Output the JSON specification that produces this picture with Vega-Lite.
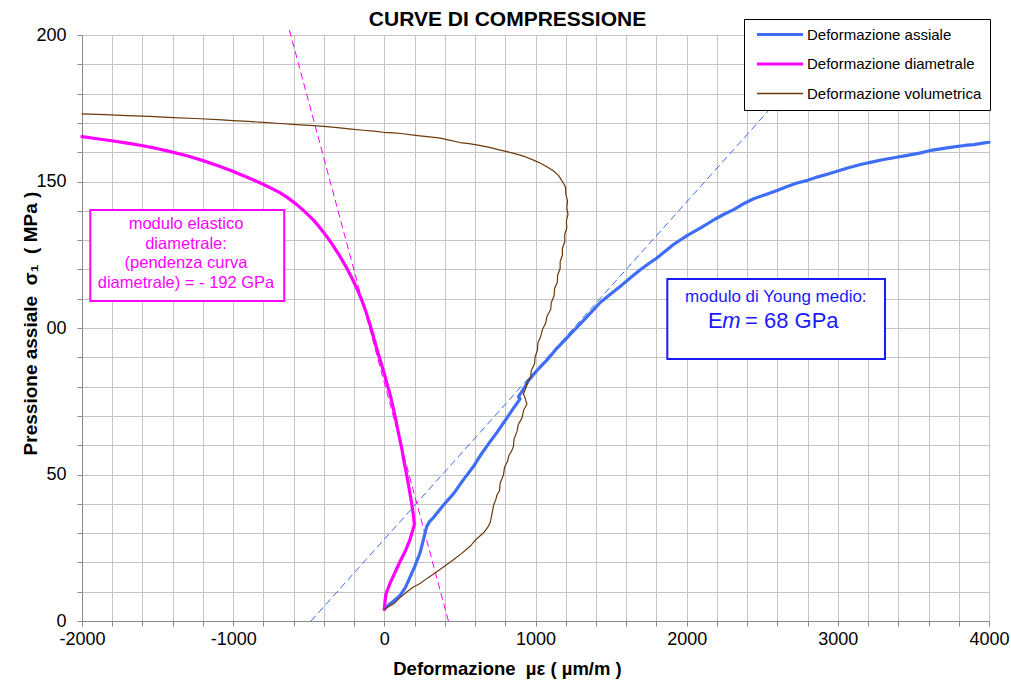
{
  "$schema": "https://vega.github.io/schema/vega-lite/v6.json",
  "width": 907,
  "height": 586,
  "autosize": {"type": "none"},
  "padding": {"left": 82, "top": 35, "right": 22, "bottom": 61},
  "background": "white",
  "config": {
    "font": "Liberation Sans",
    "view": {"stroke": "#b0b0b0"},
    "axis": {"gridColor": "#c4c4c4", "gridWidth": 1, "domainColor": "#8a8a8a", "tickColor": "#8a8a8a", "labelColor": "black", "titleColor": "black", "labelFont": "Liberation Sans", "titleFont": "Liberation Sans"}
  },
  "title": {"text": "CURVE DI COMPRESSIONE", "fontSize": 21, "font": "Liberation Sans", "fontWeight": "bold", "anchor": "middle", "dx": -28, "dy": 16, "offset": 5, "color": "black"},
  "datasets": {
    "curve": [
      {"serie": "Deformazione assiale", "x": 0, "y": 4},
      {"serie": "Deformazione assiale", "x": 20, "y": 5},
      {"serie": "Deformazione assiale", "x": 37, "y": 5.8},
      {"serie": "Deformazione assiale", "x": 70, "y": 7.2},
      {"serie": "Deformazione assiale", "x": 104, "y": 8.7},
      {"serie": "Deformazione assiale", "x": 140, "y": 11.5},
      {"serie": "Deformazione assiale", "x": 170, "y": 15},
      {"serie": "Deformazione assiale", "x": 200, "y": 18.5},
      {"serie": "Deformazione assiale", "x": 236, "y": 23.2},
      {"serie": "Deformazione assiale", "x": 260, "y": 28},
      {"serie": "Deformazione assiale", "x": 280, "y": 32.2},
      {"serie": "Deformazione assiale", "x": 300, "y": 34},
      {"serie": "Deformazione assiale", "x": 325, "y": 35.3},
      {"serie": "Deformazione assiale", "x": 390, "y": 39.5},
      {"serie": "Deformazione assiale", "x": 457, "y": 43.4},
      {"serie": "Deformazione assiale", "x": 520, "y": 48},
      {"serie": "Deformazione assiale", "x": 589, "y": 52.7},
      {"serie": "Deformazione assiale", "x": 650, "y": 57.6},
      {"serie": "Deformazione assiale", "x": 700, "y": 61.2},
      {"serie": "Deformazione assiale", "x": 744, "y": 64.3},
      {"serie": "Deformazione assiale", "x": 800, "y": 68.5},
      {"serie": "Deformazione assiale", "x": 850, "y": 72.3},
      {"serie": "Deformazione assiale", "x": 898, "y": 75.8},
      {"serie": "Deformazione assiale", "x": 887, "y": 76.6},
      {"serie": "Deformazione assiale", "x": 920, "y": 79},
      {"serie": "Deformazione assiale", "x": 954, "y": 82.1},
      {"serie": "Deformazione assiale", "x": 1010, "y": 85.5},
      {"serie": "Deformazione assiale", "x": 1075, "y": 89},
      {"serie": "Deformazione assiale", "x": 1140, "y": 93},
      {"serie": "Deformazione assiale", "x": 1208, "y": 96.6},
      {"serie": "Deformazione assiale", "x": 1270, "y": 100},
      {"serie": "Deformazione assiale", "x": 1329, "y": 103.2},
      {"serie": "Deformazione assiale", "x": 1380, "y": 106},
      {"serie": "Deformazione assiale", "x": 1428, "y": 108.7},
      {"serie": "Deformazione assiale", "x": 1493, "y": 111.4},
      {"serie": "Deformazione assiale", "x": 1560, "y": 114.2},
      {"serie": "Deformazione assiale", "x": 1630, "y": 117.2},
      {"serie": "Deformazione assiale", "x": 1693, "y": 119.9},
      {"serie": "Deformazione assiale", "x": 1750, "y": 122},
      {"serie": "Deformazione assiale", "x": 1803, "y": 123.9},
      {"serie": "Deformazione assiale", "x": 1860, "y": 126.3},
      {"serie": "Deformazione assiale", "x": 1913, "y": 128.5},
      {"serie": "Deformazione assiale", "x": 2002, "y": 131.5},
      {"serie": "Deformazione assiale", "x": 2090, "y": 134.1},
      {"serie": "Deformazione assiale", "x": 2189, "y": 137.2},
      {"serie": "Deformazione assiale", "x": 2250, "y": 138.9},
      {"serie": "Deformazione assiale", "x": 2311, "y": 140.4},
      {"serie": "Deformazione assiale", "x": 2380, "y": 142.5},
      {"serie": "Deformazione assiale", "x": 2443, "y": 144.1},
      {"serie": "Deformazione assiale", "x": 2520, "y": 145.5},
      {"serie": "Deformazione assiale", "x": 2598, "y": 146.9},
      {"serie": "Deformazione assiale", "x": 2660, "y": 148.2},
      {"serie": "Deformazione assiale", "x": 2730, "y": 149.5},
      {"serie": "Deformazione assiale", "x": 2800, "y": 150.4},
      {"serie": "Deformazione assiale", "x": 2863, "y": 151.5},
      {"serie": "Deformazione assiale", "x": 2930, "y": 152.5},
      {"serie": "Deformazione assiale", "x": 2995, "y": 153.5},
      {"serie": "Deformazione assiale", "x": 3070, "y": 154.7},
      {"serie": "Deformazione assiale", "x": 3150, "y": 155.8},
      {"serie": "Deformazione assiale", "x": 3230, "y": 156.7},
      {"serie": "Deformazione assiale", "x": 3304, "y": 157.5},
      {"serie": "Deformazione assiale", "x": 3380, "y": 158.2},
      {"serie": "Deformazione assiale", "x": 3459, "y": 158.9},
      {"serie": "Deformazione assiale", "x": 3540, "y": 159.7},
      {"serie": "Deformazione assiale", "x": 3614, "y": 160.6},
      {"serie": "Deformazione assiale", "x": 3690, "y": 161.2},
      {"serie": "Deformazione assiale", "x": 3768, "y": 161.8},
      {"serie": "Deformazione assiale", "x": 3840, "y": 162.3},
      {"serie": "Deformazione assiale", "x": 3900, "y": 162.6},
      {"serie": "Deformazione assiale", "x": 3960, "y": 163.1},
      {"serie": "Deformazione assiale", "x": 4000, "y": 163.4},

      {"serie": "Deformazione diametrale", "x": 0, "y": 4},
      {"serie": "Deformazione diametrale", "x": 5, "y": 7},
      {"serie": "Deformazione diametrale", "x": 11, "y": 9.3},
      {"serie": "Deformazione diametrale", "x": 37, "y": 12.8},
      {"serie": "Deformazione diametrale", "x": 70, "y": 16.5},
      {"serie": "Deformazione diametrale", "x": 104, "y": 20.3},
      {"serie": "Deformazione diametrale", "x": 140, "y": 24},
      {"serie": "Deformazione diametrale", "x": 170, "y": 27.8},
      {"serie": "Deformazione diametrale", "x": 199, "y": 33},
      {"serie": "Deformazione diametrale", "x": 190, "y": 37},
      {"serie": "Deformazione diametrale", "x": 181, "y": 40},
      {"serie": "Deformazione diametrale", "x": 165, "y": 45},
      {"serie": "Deformazione diametrale", "x": 148, "y": 49.8},
      {"serie": "Deformazione diametrale", "x": 130, "y": 54.5},
      {"serie": "Deformazione diametrale", "x": 115, "y": 59},
      {"serie": "Deformazione diametrale", "x": 98, "y": 63},
      {"serie": "Deformazione diametrale", "x": 82, "y": 67.1},
      {"serie": "Deformazione diametrale", "x": 60, "y": 72.5},
      {"serie": "Deformazione diametrale", "x": 37, "y": 77.5},
      {"serie": "Deformazione diametrale", "x": 15, "y": 81.5},
      {"serie": "Deformazione diametrale", "x": -7, "y": 85.6},
      {"serie": "Deformazione diametrale", "x": -30, "y": 89.5},
      {"serie": "Deformazione diametrale", "x": -51, "y": 93.1},
      {"serie": "Deformazione diametrale", "x": -73, "y": 97.2},
      {"serie": "Deformazione diametrale", "x": -95, "y": 101.2},
      {"serie": "Deformazione diametrale", "x": -120, "y": 105.3},
      {"serie": "Deformazione diametrale", "x": -150, "y": 109.6},
      {"serie": "Deformazione diametrale", "x": -180, "y": 113.3},
      {"serie": "Deformazione diametrale", "x": -216, "y": 117.2},
      {"serie": "Deformazione diametrale", "x": -250, "y": 120.6},
      {"serie": "Deformazione diametrale", "x": -294, "y": 124.5},
      {"serie": "Deformazione diametrale", "x": -340, "y": 128.2},
      {"serie": "Deformazione diametrale", "x": -382, "y": 131.3},
      {"serie": "Deformazione diametrale", "x": -430, "y": 134.5},
      {"serie": "Deformazione diametrale", "x": -470, "y": 136.9},
      {"serie": "Deformazione diametrale", "x": -530, "y": 139.9},
      {"serie": "Deformazione diametrale", "x": -581, "y": 142.2},
      {"serie": "Deformazione diametrale", "x": -640, "y": 144.5},
      {"serie": "Deformazione diametrale", "x": -691, "y": 146.2},
      {"serie": "Deformazione diametrale", "x": -760, "y": 148.0},
      {"serie": "Deformazione diametrale", "x": -812, "y": 149.3},
      {"serie": "Deformazione diametrale", "x": -900, "y": 151.3},
      {"serie": "Deformazione diametrale", "x": -1011, "y": 153.7},
      {"serie": "Deformazione diametrale", "x": -1100, "y": 155.4},
      {"serie": "Deformazione diametrale", "x": -1209, "y": 157.3},
      {"serie": "Deformazione diametrale", "x": -1300, "y": 158.7},
      {"serie": "Deformazione diametrale", "x": -1408, "y": 160.1},
      {"serie": "Deformazione diametrale", "x": -1500, "y": 161.2},
      {"serie": "Deformazione diametrale", "x": -1606, "y": 162.3},
      {"serie": "Deformazione diametrale", "x": -1700, "y": 163.1},
      {"serie": "Deformazione diametrale", "x": -1804, "y": 163.9},
      {"serie": "Deformazione diametrale", "x": -1900, "y": 164.6},
      {"serie": "Deformazione diametrale", "x": -2000, "y": 165.3},

      {"serie": "Deformazione volumetrica", "x": 0, "y": 4},
      {"serie": "Deformazione volumetrica", "x": 30, "y": 5},
      {"serie": "Deformazione volumetrica", "x": 60, "y": 5.8},
      {"serie": "Deformazione volumetrica", "x": 100, "y": 7.8},
      {"serie": "Deformazione volumetrica", "x": 148, "y": 9.9},
      {"serie": "Deformazione volumetrica", "x": 190, "y": 11.5},
      {"serie": "Deformazione volumetrica", "x": 236, "y": 12.8},
      {"serie": "Deformazione volumetrica", "x": 290, "y": 14.8},
      {"serie": "Deformazione volumetrica", "x": 347, "y": 16.8},
      {"serie": "Deformazione volumetrica", "x": 400, "y": 18.8},
      {"serie": "Deformazione volumetrica", "x": 457, "y": 20.9},
      {"serie": "Deformazione volumetrica", "x": 510, "y": 23},
      {"serie": "Deformazione volumetrica", "x": 567, "y": 25.5},
      {"serie": "Deformazione volumetrica", "x": 610, "y": 28},
      {"serie": "Deformazione volumetrica", "x": 656, "y": 30.1},
      {"serie": "Deformazione volumetrica", "x": 685, "y": 32},
      {"serie": "Deformazione volumetrica", "x": 700, "y": 33.6},
      {"serie": "Deformazione volumetrica", "x": 712, "y": 36.5},
      {"serie": "Deformazione volumetrica", "x": 722, "y": 39.4},
      {"serie": "Deformazione volumetrica", "x": 738, "y": 41.5},
      {"serie": "Deformazione volumetrica", "x": 745, "y": 43},
      {"serie": "Deformazione volumetrica", "x": 762, "y": 44.5},
      {"serie": "Deformazione volumetrica", "x": 766, "y": 47},
      {"serie": "Deformazione volumetrica", "x": 788, "y": 49.8},
      {"serie": "Deformazione volumetrica", "x": 795, "y": 52.5},
      {"serie": "Deformazione volumetrica", "x": 815, "y": 54.5},
      {"serie": "Deformazione volumetrica", "x": 824, "y": 56.5},
      {"serie": "Deformazione volumetrica", "x": 842, "y": 58},
      {"serie": "Deformazione volumetrica", "x": 854, "y": 59.6},
      {"serie": "Deformazione volumetrica", "x": 858, "y": 62},
      {"serie": "Deformazione volumetrica", "x": 878, "y": 64.8},
      {"serie": "Deformazione volumetrica", "x": 886, "y": 67},
      {"serie": "Deformazione volumetrica", "x": 911, "y": 69.4},
      {"serie": "Deformazione volumetrica", "x": 922, "y": 72},
      {"serie": "Deformazione volumetrica", "x": 943, "y": 74},
      {"serie": "Deformazione volumetrica", "x": 932, "y": 76},
      {"serie": "Deformazione volumetrica", "x": 920, "y": 77.5},
      {"serie": "Deformazione volumetrica", "x": 938, "y": 79.8},
      {"serie": "Deformazione volumetrica", "x": 946, "y": 81.5},
      {"serie": "Deformazione volumetrica", "x": 968, "y": 83.3},
      {"serie": "Deformazione volumetrica", "x": 972, "y": 85.5},
      {"serie": "Deformazione volumetrica", "x": 994, "y": 87.9},
      {"serie": "Deformazione volumetrica", "x": 997, "y": 90},
      {"serie": "Deformazione volumetrica", "x": 1013, "y": 92.5},
      {"serie": "Deformazione volumetrica", "x": 1016, "y": 95},
      {"serie": "Deformazione volumetrica", "x": 1035, "y": 97.2},
      {"serie": "Deformazione volumetrica", "x": 1046, "y": 99.5},
      {"serie": "Deformazione volumetrica", "x": 1068, "y": 101.8},
      {"serie": "Deformazione volumetrica", "x": 1076, "y": 104},
      {"serie": "Deformazione volumetrica", "x": 1101, "y": 106.4},
      {"serie": "Deformazione volumetrica", "x": 1104, "y": 108.6},
      {"serie": "Deformazione volumetrica", "x": 1123, "y": 111},
      {"serie": "Deformazione volumetrica", "x": 1126, "y": 113.5},
      {"serie": "Deformazione volumetrica", "x": 1145, "y": 115.7},
      {"serie": "Deformazione volumetrica", "x": 1146, "y": 118},
      {"serie": "Deformazione volumetrica", "x": 1163, "y": 120.3},
      {"serie": "Deformazione volumetrica", "x": 1163, "y": 122.6},
      {"serie": "Deformazione volumetrica", "x": 1178, "y": 124.9},
      {"serie": "Deformazione volumetrica", "x": 1178, "y": 127.2},
      {"serie": "Deformazione volumetrica", "x": 1194, "y": 129.5},
      {"serie": "Deformazione volumetrica", "x": 1193, "y": 131.8},
      {"serie": "Deformazione volumetrica", "x": 1207, "y": 134.2},
      {"serie": "Deformazione volumetrica", "x": 1204, "y": 136.5},
      {"serie": "Deformazione volumetrica", "x": 1215, "y": 138.8},
      {"serie": "Deformazione volumetrica", "x": 1207, "y": 141},
      {"serie": "Deformazione volumetrica", "x": 1212, "y": 143.4},
      {"serie": "Deformazione volumetrica", "x": 1200, "y": 145.8},
      {"serie": "Deformazione volumetrica", "x": 1199, "y": 148},
      {"serie": "Deformazione volumetrica", "x": 1186, "y": 149.3},
      {"serie": "Deformazione volumetrica", "x": 1174, "y": 150.3},
      {"serie": "Deformazione volumetrica", "x": 1152, "y": 152.1},
      {"serie": "Deformazione volumetrica", "x": 1120, "y": 153.6},
      {"serie": "Deformazione volumetrica", "x": 1075, "y": 155},
      {"serie": "Deformazione volumetrica", "x": 1030, "y": 156.3},
      {"serie": "Deformazione volumetrica", "x": 987, "y": 157.3},
      {"serie": "Deformazione volumetrica", "x": 940, "y": 158.3},
      {"serie": "Deformazione volumetrica", "x": 898, "y": 159},
      {"serie": "Deformazione volumetrica", "x": 850, "y": 159.7},
      {"serie": "Deformazione volumetrica", "x": 810, "y": 160.2},
      {"serie": "Deformazione volumetrica", "x": 760, "y": 160.8},
      {"serie": "Deformazione volumetrica", "x": 722, "y": 161.3},
      {"serie": "Deformazione volumetrica", "x": 670, "y": 161.9},
      {"serie": "Deformazione volumetrica", "x": 611, "y": 162.5},
      {"serie": "Deformazione volumetrica", "x": 560, "y": 162.9},
      {"serie": "Deformazione volumetrica", "x": 501, "y": 163.3},
      {"serie": "Deformazione volumetrica", "x": 430, "y": 164.1},
      {"serie": "Deformazione volumetrica", "x": 369, "y": 164.8},
      {"serie": "Deformazione volumetrica", "x": 300, "y": 165.2},
      {"serie": "Deformazione volumetrica", "x": 236, "y": 165.6},
      {"serie": "Deformazione volumetrica", "x": 180, "y": 165.9},
      {"serie": "Deformazione volumetrica", "x": 126, "y": 166.3},
      {"serie": "Deformazione volumetrica", "x": 60, "y": 166.6},
      {"serie": "Deformazione volumetrica", "x": -7, "y": 166.8},
      {"serie": "Deformazione volumetrica", "x": -70, "y": 167.2},
      {"serie": "Deformazione volumetrica", "x": -139, "y": 167.5},
      {"serie": "Deformazione volumetrica", "x": -220, "y": 167.9},
      {"serie": "Deformazione volumetrica", "x": -294, "y": 168.3},
      {"serie": "Deformazione volumetrica", "x": -380, "y": 168.7},
      {"serie": "Deformazione volumetrica", "x": -470, "y": 169.1},
      {"serie": "Deformazione volumetrica", "x": -580, "y": 169.4},
      {"serie": "Deformazione volumetrica", "x": -691, "y": 169.8},
      {"serie": "Deformazione volumetrica", "x": -800, "y": 170.2},
      {"serie": "Deformazione volumetrica", "x": -900, "y": 170.5},
      {"serie": "Deformazione volumetrica", "x": -1000, "y": 170.8},
      {"serie": "Deformazione volumetrica", "x": -1100, "y": 171.1},
      {"serie": "Deformazione volumetrica", "x": -1250, "y": 171.5},
      {"serie": "Deformazione volumetrica", "x": -1400, "y": 171.8},
      {"serie": "Deformazione volumetrica", "x": -1550, "y": 172.2},
      {"serie": "Deformazione volumetrica", "x": -1700, "y": 172.5},
      {"serie": "Deformazione volumetrica", "x": -1850, "y": 172.8},
      {"serie": "Deformazione volumetrica", "x": -2000, "y": 173.1}
    ],
    "tangenti": [
      {"retta": "assiale", "x": -485, "y": 0},
      {"retta": "assiale", "x": 2990, "y": 200},
      {"retta": "diametrale", "x": 424, "y": 0},
      {"retta": "diametrale", "x": -628, "y": 201.7}
    ],
    "riquadri": [
      {"box": "diam", "x": -1945, "x2": -662, "y": 140.3, "y2": 109.2},
      {"box": "young", "x": 1872, "x2": 3312, "y": 116.7, "y2": 89.4}
    ],
    "testo_diam": [
      {"x": -1312, "y": 135.5, "t": "modulo elastico"},
      {"x": -1312, "y": 128.7, "t": "diametrale:"},
      {"x": -1312, "y": 122.1, "t": "(pendenza curva"},
      {"x": -1312, "y": 115.5, "t": "diametrale) = - 192 GPa"}
    ]
  },
  "encoding": {
    "x": {"field": "x", "type": "quantitative", "scale": {"domain": [-2000, 4000], "nice": false, "zero": false},
      "axis": {"values": [-2000,-1800,-1600,-1400,-1200,-1000,-800,-600,-400,-200,0,200,400,600,800,1000,1200,1400,1600,1800,2000,2200,2400,2600,2800,3000,3200,3400,3600,3800,4000],
        "labelExpr": "datum.value % 1000 === 0 ? ('' + datum.value) : ''", "labelFontSize": 18, "labelFlush": false, "labelOverlap": false, "labelPadding": 4, "tickSize": 5,
        "title": "Deformazione\u00a0\u00a0µε ( µm/m )", "titleFontSize": 18.5, "titleFontWeight": "bold", "titleX": 425, "titleY": 47, "titleBaseline": "middle", "titleAnchor": "middle"}},
    "y": {"field": "y", "type": "quantitative", "scale": {"domain": [0, 200], "nice": false, "zero": false},
      "axis": {"values": [0,10,20,30,40,50,60,70,80,90,100,110,120,130,140,150,160,170,180,190,200],
        "labelExpr": "datum.value === 100 ? '00' : (datum.value % 50 === 0 ? ('' + datum.value) : '')", "labelFontSize": 18, "labelFlush": false, "labelOverlap": false, "labelPadding": 11, "tickSize": 5,
        "title": "Pressione assiale\u00a0\u00a0σ₁\u00a0\u00a0( MPa )", "titleFontSize": 19, "titleFontWeight": "bold", "titleX": -52, "titleY": 288, "titleAngle": -90, "titleBaseline": "middle", "titleAlign": "center"}}
  },
  "layer": [
    {
      "data": {"name": "tangenti"},
      "transform": [{"filter": "datum.retta === 'assiale'"}],
      "mark": {"type": "line", "color": "#3a6cf4", "strokeWidth": 1, "strokeDash": [7, 4], "clip": false},
      "encoding": {"order": {"value": null}}
    },
    {
      "data": {"name": "tangenti"},
      "transform": [{"filter": "datum.retta === 'diametrale'"}],
      "mark": {"type": "line", "color": "#ff00ff", "strokeWidth": 1, "strokeDash": [7, 4], "clip": false},
      "encoding": {"order": {"value": null}}
    },
    {
      "data": {"name": "curve"},
      "mark": {"type": "line", "strokeJoin": "round", "strokeCap": "round"},
      "encoding": {
        "order": {"value": null},
        "strokeWidth": {"condition": {"test": "datum.serie === 'Deformazione volumetrica'", "value": 1.2}, "value": 3.2},
        "color": {"field": "serie", "type": "nominal",
          "scale": {"domain": ["Deformazione assiale", "Deformazione diametrale", "Deformazione volumetrica"], "range": ["#3f6ef5", "#ff00ff", "#6b3a0c"]},
          "legend": {"title": null, "orient": "none", "legendX": 662, "legendY": -16, "symbolType": "stroke", "symbolSize": 100, "labelFontSize": 15, "labelFont": "Liberation Sans", "labelColor": "black", "labelLimit": 400, "strokeColor": "black", "fillColor": "white", "padding": 8, "rowPadding": 13.5, "labelOffset": 40,
            "encode": {"symbols": {"update": {"size": {"value": 2116}, "x": {"value": 28}, "strokeWidth": {"signal": "datum.value === 'Deformazione volumetrica' ? 1.5 : 3"}}}}}}
      }
    },
    {
      "data": {"name": "riquadri"},
      "transform": [{"filter": "datum.box === 'diam'"}],
      "mark": {"type": "rect", "fill": "white", "stroke": "#ff00ff", "strokeWidth": 2},
      "encoding": {"x2": {"field": "x2"}, "y2": {"field": "y2"}}
    },
    {
      "data": {"name": "riquadri"},
      "transform": [{"filter": "datum.box === 'young'"}],
      "mark": {"type": "rect", "fill": "white", "stroke": "#1a1aff", "strokeWidth": 2},
      "encoding": {"x2": {"field": "x2"}, "y2": {"field": "y2"}}
    },
    {
      "data": {"name": "testo_diam"},
      "mark": {"type": "text", "color": "#ff00ff", "fontSize": 16.5, "font": "Liberation Sans", "align": "center", "baseline": "middle"},
      "encoding": {"text": {"field": "t"}}
    },
    {
      "data": {"values": [{"x": 2590, "y": 110.6, "t": "modulo di Young medio:"}]},
      "mark": {"type": "text", "color": "#1a1aff", "fontSize": 17, "font": "Liberation Sans", "align": "center", "baseline": "middle"},
      "encoding": {"text": {"field": "t"}}
    },
    {
      "data": {"values": [{"x": 2141, "y": 102.5, "t": "E"}, {"x": 2386, "y": 102.5, "t": "= 68 GPa"}]},
      "mark": {"type": "text", "color": "#1a1aff", "fontSize": 22, "font": "Liberation Sans", "align": "left", "baseline": "middle"},
      "encoding": {"text": {"field": "t"}}
    },
    {
      "data": {"values": [{"x": 2236, "y": 102.5, "t": "m"}]},
      "mark": {"type": "text", "color": "#1a1aff", "fontSize": 22, "font": "Liberation Sans", "fontStyle": "italic", "align": "left", "baseline": "middle"},
      "encoding": {"text": {"field": "t"}}
    }
  ]
}
